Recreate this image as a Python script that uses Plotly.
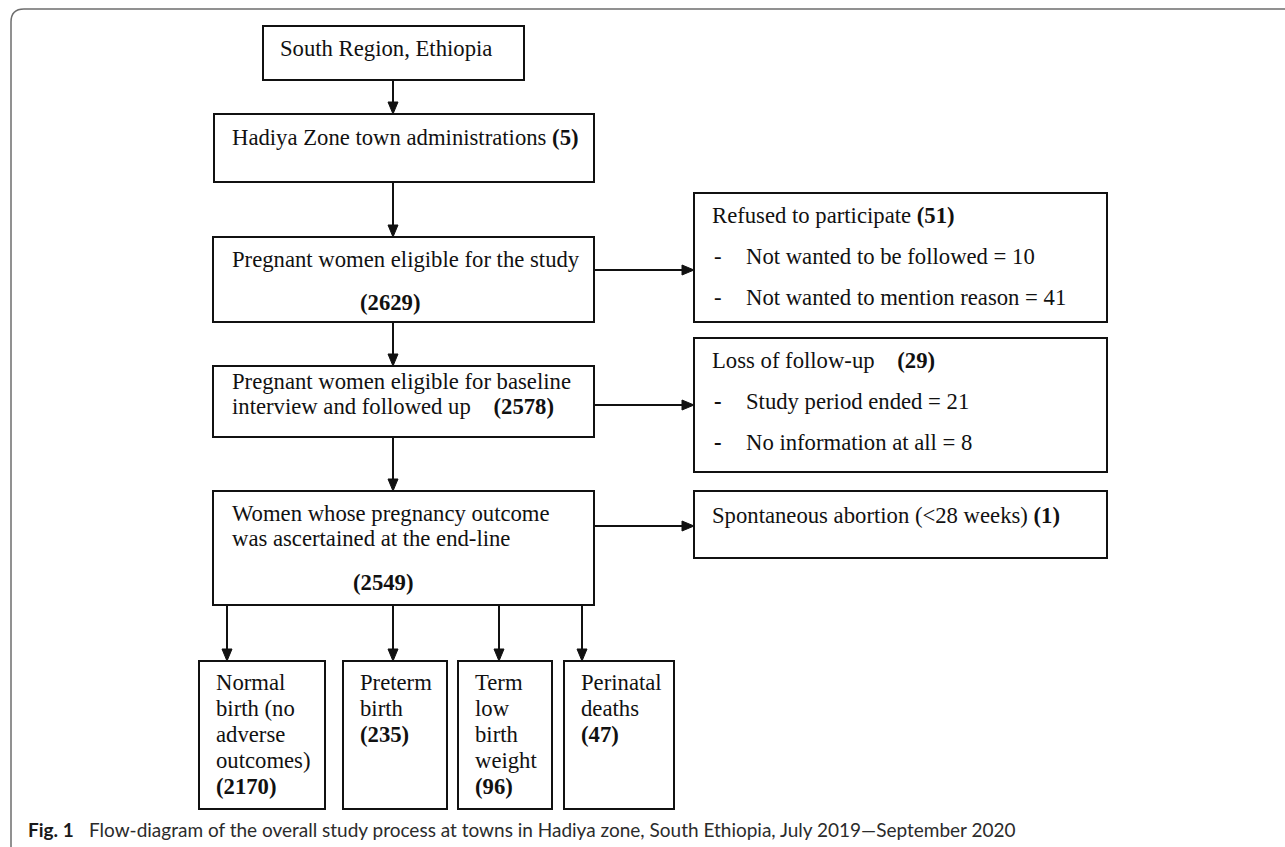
import plotly.graph_objects as go

# ---------------- data (text and counts) ----------------
main_labels = [
    "South Region, Ethiopia",
    "Hadiya Zone town administrations",
    "Pregnant women eligible for the study",
    "Pregnant women eligible for baseline\ninterview and followed up",
    "Women whose pregnancy outcome\nwas ascertained at the end-line",
]
main_counts = [None, 5, 2629, 2578, 2549]

exclusion_labels = ["Refused to participate", "Loss of follow-up", "Spontaneous abortion (<28 weeks)"]
exclusion_counts = [51, 29, 1]
exclusion_reasons = [
    ["Not wanted to be followed", "Not wanted to mention reason"],
    ["Study period ended", "No information at all"],
    [],
]
reason_counts = [[10, 41], [21, 8], []]

outcome_labels = ["Normal\nbirth (no\nadverse\noutcomes)", "Preterm\nbirth", "Term\nlow\nbirth\nweight", "Perinatal\ndeaths"]
outcome_counts = [2170, 235, 96, 47]

caption_label = "Fig. 1"
caption_text = ("Flow-diagram of the overall study process at towns in Hadiya zone, "
                "South Ethiopia, July 2019\u2014September 2020")

# ---------------- layout geometry (pixels) ----------------
W, H = 1285, 847
SERIF = "Liberation Serif, Times New Roman, serif"
FS = 22.7
INK = "#111111"

main_boxes = [(263, 26, 524, 80), (214, 114, 594, 182), (213, 237, 594, 322),
              (213, 366, 594, 437), (213, 491, 594, 605)]
side_boxes = [(694, 193, 1107, 322), (694, 338, 1107, 472), (694, 491, 1107, 558)]
side_from = [2, 3, 4]
side_arrow_y = [270, 405, 526]
out_boxes = [(199, 661, 325, 809), (343, 661, 447, 809), (458, 661, 552, 809), (564, 661, 674, 809)]
out_arrow_x = [227, 393, 499, 582]
spine_x = 393

fig = go.Figure()
shapes = []
annotations = []


def rect(b):
    shapes.append(dict(type="rect", x0=b[0], y0=b[1], x1=b[2], y1=b[3],
                       line=dict(color=INK, width=2), fillcolor="rgba(0,0,0,0)", layer="above"))


def line(x0, y0, x1, y1):
    shapes.append(dict(type="line", x0=x0, y0=y0, x1=x1, y1=y1,
                       line=dict(color=INK, width=2), layer="above"))


def head(x, y, direction):
    if direction == "down":
        p = f"M {x-5},{y-12} L {x+5},{y-12} L {x},{y} Z"
    else:
        p = f"M {x-12},{y-5} L {x-12},{y+5} L {x},{y} Z"
    shapes.append(dict(type="path", path=p, fillcolor=INK, line=dict(color=INK, width=1), layer="above"))


def text(x, y, s, anchor="left", size=FS, font=SERIF, color=INK):
    annotations.append(dict(x=x, y=y, xref="x", yref="y", text=s, showarrow=False,
                            xanchor=anchor, yanchor="middle",
                            font=dict(family=font, size=size, color=color)))


# outer frame (rounded top-left corner, open on right / bottom)
shapes.append(dict(type="path", path="M 11,860 L 11,22 Q 11,9 24,9 L 1300,9",
                   line=dict(color="#6e6e6e", width=1.5)))

# main column boxes
for b in main_boxes:
    rect(b)
# vertical arrows between main boxes
for i in range(len(main_boxes) - 1):
    line(spine_x, main_boxes[i][3], spine_x, main_boxes[i + 1][1] - 10)
    head(spine_x, main_boxes[i + 1][1], "down")

# main box texts
text(278, 48, main_labels[0])
text(230, 137, f"{main_labels[1]} <b>({main_counts[1]})</b>")
text(230, 259, main_labels[2])
text(390, 302, f"<b>({main_counts[2]})</b>", anchor="center")
l3 = main_labels[3].split("\n")
text(230, 381, l3[0])
text(230, 406, f"{l3[1]}    <b>({main_counts[3]})</b>")
l4 = main_labels[4].split("\n")
text(230, 513, l4[0])
text(230, 538, l4[1])
text(383, 582, f"<b>({main_counts[4]})</b>", anchor="center")

# side boxes (exclusions)
for k, b in enumerate(side_boxes):
    rect(b)
    src = main_boxes[side_from[k]]
    line(src[2], side_arrow_y[k], b[0] - 10, side_arrow_y[k])
    head(b[0], side_arrow_y[k], "right")

text(710, 215, f"{exclusion_labels[0]} <b>({exclusion_counts[0]})</b>")
text(710, 360, f"{exclusion_labels[1]}    <b>({exclusion_counts[1]})</b>")
text(710, 515, f"{exclusion_labels[2]} <b>({exclusion_counts[2]})</b>")
reason_rows = [[256, 297], [401, 442]]
for k in range(2):
    for j, r in enumerate(exclusion_reasons[k]):
        bullet = "-" if k == 0 else "<b>-</b>"
        text(712, reason_rows[k][j], bullet)
        text(744, reason_rows[k][j], f"{r} = {reason_counts[k][j]}")

# outcome boxes
main_bottom = main_boxes[-1][3]
for k, b in enumerate(out_boxes):
    rect(b)
    x = out_arrow_x[k]
    line(x, main_bottom, x, b[1] - 10)
    head(x, b[1], "down")
    rows = outcome_labels[k].split("\n") + [f"<b>({outcome_counts[k]})</b>"]
    for j, r in enumerate(rows):
        text(b[0] + 15, 682 + j * 26.2, r)

# caption
CAP_FONT = "Lato, Open Sans, sans-serif"
text(26, 829, f"<b>{caption_label}</b>", size=19, font=CAP_FONT, color="#1a1a1a")
text(87, 829, caption_text, size=19, font=CAP_FONT, color="#2b2b2b")

fig.update_layout(
    width=W, height=H,
    margin=dict(l=0, r=0, t=0, b=0),
    paper_bgcolor="white", plot_bgcolor="white",
    xaxis=dict(range=[0, W], visible=False, fixedrange=True),
    yaxis=dict(range=[H, 0], visible=False, fixedrange=True),
    shapes=shapes, annotations=annotations, showlegend=False,
)

fig.write_html("out.html", config={"displayModeBar": False},
               post_script="document.body.style.margin='0px';")
